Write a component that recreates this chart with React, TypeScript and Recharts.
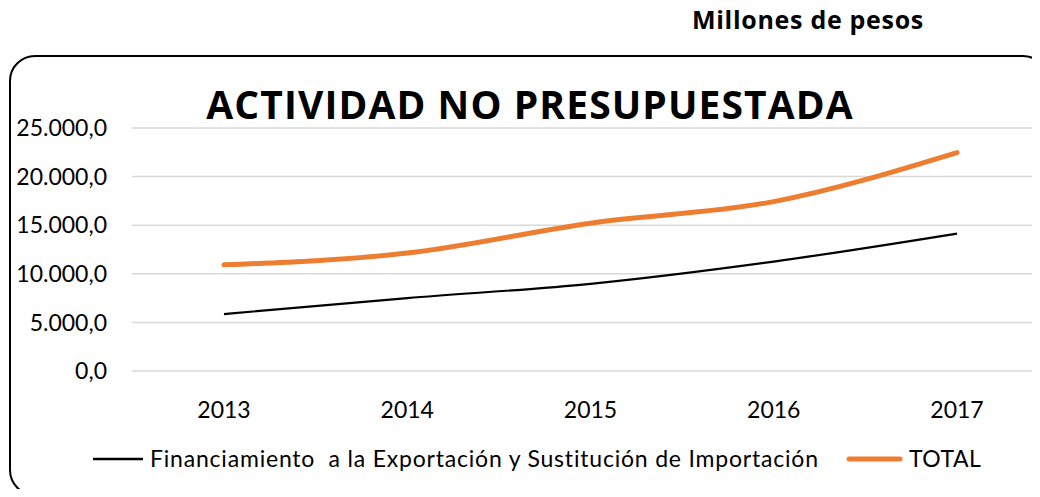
import React from 'react';
import { LineChart, Line, XAxis, YAxis, CartesianGrid } from 'recharts';

const categories: string[] = ['2013', '2014', '2015', '2016', '2017'];
const financiamiento: number[] = [5860, 7500, 8970, 11260, 14140];
const total: number[] = [10920, 12130, 15210, 17430, 22470];
const yTicks: number[] = [0, 5000, 10000, 15000, 20000, 25000];
const seriesNames: string[] = ['Financiamiento  a la Exportación y Sustitución de Importación', 'TOTAL'];
const seriesColors: string[] = ['#000000', '#ED7D31'];
const chartTitle = 'ACTIVIDAD NO PRESUPUESTADA';
const unitLabel = 'Millones de pesos';

const data = categories.map((c, i) => ({ year: c, fin: financiamiento[i], total: total[i] }));

const fmt = (v: number) => {
  const s = Math.round(v).toString().replace(/\B(?=(\d{3})+(?!\d))/g, '.');
  return s + ',0';
};

const TICK_FONT = 'Lato, "Open Sans", sans-serif';

export default function App() {
  return (
    <div style={{ position: 'relative', width: 1040, height: 497, margin: -8, overflow: 'hidden', background: '#fff' }}>
      <div
        style={{
          position: 'absolute',
          left: 9,
          top: 55,
          width: 1036,
          height: 437,
          border: '2px solid #000',
          borderRadius: 26,
        }}
      />
      <div style={{ position: 'absolute', left: 0, top: 0 }}>
        <LineChart width={1060} height={497} data={data} margin={{ top: 128, right: 11, bottom: 66, left: 0 }}>
          <CartesianGrid vertical={false} stroke="#D9D9D9" strokeWidth={1.5} />
          <XAxis
            dataKey="year"
            axisLine={false}
            tickLine={false}
            tickSize={0}
            tickMargin={31}
            height={60}
            interval={0}
            padding={{ left: 92, right: 92 }}
            tick={{ fill: '#000', fontSize: 23, fontFamily: TICK_FONT }}
          />
          <YAxis
            domain={[0, 25000]}
            ticks={yTicks}
            width={132}
            axisLine={false}
            tickLine={false}
            tickSize={0}
            tickMargin={25}
            tickFormatter={fmt}
            tick={{ fill: '#000', fontSize: 23, fontFamily: TICK_FONT }}
          />
          <Line type="monotone" dataKey="fin" stroke={seriesColors[0]} strokeWidth={2.2} dot={false} isAnimationActive={false} />
          <Line type="monotone" dataKey="total" stroke={seriesColors[1]} strokeWidth={5} strokeLinecap="round" dot={false} isAnimationActive={false} />
        </LineChart>
      </div>
      <svg width={1040} height={497} style={{ position: 'absolute', left: 0, top: 0, pointerEvents: 'none' }}>
        <text x={808} y={29} textAnchor="middle" fontFamily='"Open Sans", sans-serif' fontWeight={700} fontSize={25} letterSpacing={0.7} fill="#000">
          {unitLabel}
        </text>
        <text x={530} y={119} textAnchor="middle" fontFamily='"Open Sans", sans-serif' fontWeight={700} fontSize={39} letterSpacing={1.1} fill="#000">
          {chartTitle}
        </text>
        <line x1={93} y1={459} x2={143} y2={459} stroke={seriesColors[0]} strokeWidth={2.5} />
        <text x={150} y={467} fontFamily={TICK_FONT} fontSize={23} letterSpacing={0.8} fill="#000" style={{ whiteSpace: 'pre' }} xmlSpace="preserve">
          {seriesNames[0]}
        </text>
        <line x1={849} y1={459} x2={900} y2={459} stroke={seriesColors[1]} strokeWidth={5} strokeLinecap="round" />
        <text x={909} y={467} fontFamily={TICK_FONT} fontSize={23} letterSpacing={0.5} fill="#000">
          {seriesNames[1]}
        </text>
      </svg>
    </div>
  );
}
